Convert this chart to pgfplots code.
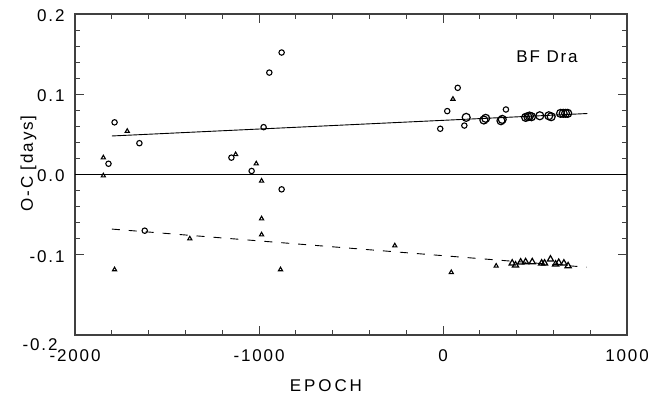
\documentclass[border=0pt]{standalone}
\usepackage{fontspec}
\setmainfont{Liberation Sans}[LetterSpace=11]
\newfontfamily\widefont{Liberation Sans}[LetterSpace=17]
\usepackage{pgfplots}
\pgfplotsset{compat=1.18}
\begin{document}
\begin{tikzpicture}[font=\fontsize{17}{19}\selectfont]
\begin{axis}[
  at={(75pt,-335pt)}, anchor=south west,
  scale only axis, width=552pt, height=321pt,
  xmin=-2000, xmax=1000, ymin=-0.2, ymax=0.2,
  xtick={-2000,-1000,0,1000}, xticklabels={-2000,-1000,0,1000},
  ytick={-0.1,0,0.1,0.2}, yticklabels={-0.1,0.0,0.1,0.2},
  extra y ticks={-0.2}, extra y tick labels={-0.2},
  extra y tick style={yticklabel style={xshift=-7pt, yshift=-8pt}},
  minor x tick num=4, minor y tick num=4,
  tick align=inside, major tick length=9pt, minor tick length=5pt,
  axis line style={line width=1.2pt, black!75},
  tick style={line width=1pt, black!75},
  ticklabel style={font=\fontsize{17}{19}\selectfont},
  xticklabel style={yshift=-11pt},
  yticklabel style={xshift=-7pt, yshift=-1.5pt},
]
\addplot[black, line width=0.9pt] coordinates {(-2000,0) (1000,0)};
\addplot[black, line width=0.9pt] coordinates {(-1800,0.048) (785,0.076)};
\addplot[black, line width=0.9pt, dash pattern=on 8pt off 9pt] coordinates {(-1800,-0.068) (780,-0.1155)};
% small circles
\addplot[only marks, mark=o, mark size=2.7pt, mark options={line width=1.1pt, black}] coordinates {
(-1785,0.065) (-1818,0.0134) (-1650,0.039) (-1621,-0.070) (-1150,0.021) (-1040,0.0044)
(-975,0.059) (-944,0.127) (-877,0.152) (-877,-0.0185) (-15,0.057) (23,0.079) (80,0.108)
(116,0.061) (342,0.081)};
% large circles
\addplot[only marks, mark=o, mark size=4pt, mark options={line width=1.2pt, black}] coordinates {
(126,0.0712) (222,0.0679) (232,0.070) (315,0.067) (322,0.0687) (449,0.0712) (461,0.072)
(470,0.0729) (481,0.072) (526,0.0732) (575,0.0732) (588,0.072) (639,0.0762) (653,0.0762)
(666,0.0762) (678,0.0762)};
% small triangles
\addplot[only marks, mark=triangle, mark size=2.4pt, mark options={line width=1.1pt, black}] coordinates {
(-1846,0.021) (-1846,-0.0015) (-1716,0.054) (-1785,-0.1185) (-1376,-0.080) (-1127,0.025)
(-1015,0.0135) (-986,-0.008) (-986,-0.055) (-986,-0.075) (-883,-0.1185) (-262,-0.0887)
(45,-0.122) (289,-0.114) (54,0.094)};
% large triangles
\addplot[only marks, mark=triangle, mark size=3.6pt, mark options={line width=1.2pt, black}] coordinates {
(376,-0.1106) (394,-0.113) (422,-0.1093) (449,-0.109) (485,-0.109) (536,-0.1106)
(552,-0.1106) (584,-0.1056) (612,-0.1118) (629,-0.1098) (657,-0.1106) (680,-0.114)};
\end{axis}
\node at (326pt,-386pt) {\widefont EPOCH};
\node[rotate=90] at (28.5pt,-163.5pt) {O-C [days]};
\node at (547pt,-57pt) {BF Dra};
\pgfresetboundingbox
\path[use as bounding box] (0,0) rectangle (648pt,-398pt);
\end{tikzpicture}
\end{document}
